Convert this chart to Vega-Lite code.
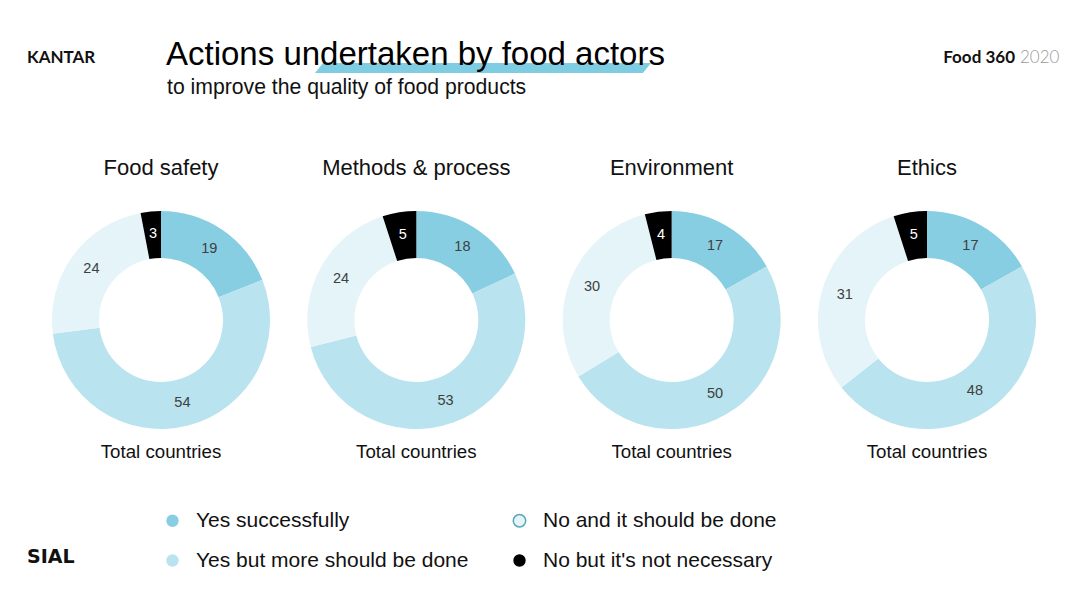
{
  "$schema": "https://vega.github.io/schema/vega-lite/v6.json",
  "width": 1080,
  "height": 595,
  "autosize": {"type": "fit", "contains": "padding"},
  "padding": 0,
  "background": "white",
  "config": {"view": {"stroke": null}, "font": "Liberation Sans"},
  "datasets": {
    "answers": [
      {"panel": "Food safety", "answer": "Yes successfully", "ord": 1, "value": 19},
      {"panel": "Food safety", "answer": "Yes but more should be done", "ord": 2, "value": 54},
      {"panel": "Food safety", "answer": "No and it should be done", "ord": 3, "value": 24},
      {"panel": "Food safety", "answer": "No but it's not necessary", "ord": 4, "value": 3},
      {"panel": "Methods & process", "answer": "Yes successfully", "ord": 1, "value": 18},
      {"panel": "Methods & process", "answer": "Yes but more should be done", "ord": 2, "value": 53},
      {"panel": "Methods & process", "answer": "No and it should be done", "ord": 3, "value": 24},
      {"panel": "Methods & process", "answer": "No but it's not necessary", "ord": 4, "value": 5},
      {"panel": "Environment", "answer": "Yes successfully", "ord": 1, "value": 17},
      {"panel": "Environment", "answer": "Yes but more should be done", "ord": 2, "value": 50},
      {"panel": "Environment", "answer": "No and it should be done", "ord": 3, "value": 30},
      {"panel": "Environment", "answer": "No but it's not necessary", "ord": 4, "value": 4},
      {"panel": "Ethics", "answer": "Yes successfully", "ord": 1, "value": 17},
      {"panel": "Ethics", "answer": "Yes but more should be done", "ord": 2, "value": 48},
      {"panel": "Ethics", "answer": "No and it should be done", "ord": 3, "value": 31},
      {"panel": "Ethics", "answer": "No but it's not necessary", "ord": 4, "value": 5}
    ],
    "panels": [
      {"panel": "Food safety", "footer": "Total countries"},
      {"panel": "Methods & process", "footer": "Total countries"},
      {"panel": "Environment", "footer": "Total countries"},
      {"panel": "Ethics", "footer": "Total countries"}
    ]
  },
  "layer": [
    {
      "data": {"values": [{}]},
      "mark": {"type": "point", "shape": "M-0.952,-0.0298L1,-0.0298L0.952,0.0298L-1,0.0298Z", "size": 112896, "filled": true, "color": "#7FCDE2", "opacity": 1, "strokeWidth": 0, "x": 483, "y": 68},
      "encoding": {}
    },
    {
      "data": {"values": [{}]},
      "mark": {"type": "text", "text": "Actions undertaken by food actors", "x": 166, "y": 65, "align": "left", "baseline": "alphabetic", "fontSize": 33, "color": "#000000"},
      "encoding": {}
    },
    {
      "data": {"values": [{}]},
      "mark": {"type": "text", "text": "to improve the quality of food products", "x": 167, "y": 94, "align": "left", "baseline": "alphabetic", "fontSize": 21.2, "color": "#111111"},
      "encoding": {}
    },
    {
      "data": {"values": [{}]},
      "mark": {"type": "text", "text": "KANTAR", "x": 27, "y": 58, "align": "left", "baseline": "middle", "fontSize": 17, "font": "Lato", "fontWeight": "bold", "color": "#111111"},
      "encoding": {}
    },
    {
      "data": {"values": [{}]},
      "mark": {"type": "text", "text": "Food 360", "x": 1015, "y": 58, "align": "right", "baseline": "middle", "fontSize": 17, "font": "Lato", "fontWeight": "bold", "color": "#111111"},
      "encoding": {}
    },
    {
      "data": {"values": [{}]},
      "mark": {"type": "text", "text": "2020", "x": 1020, "y": 58, "align": "left", "baseline": "middle", "fontSize": 17, "font": "Lato", "fontWeight": 300, "color": "#9a9a9a"},
      "encoding": {}
    },
    {
      "data": {"values": [{}]},
      "mark": {"type": "text", "text": "SIAL", "x": 27, "y": 557, "align": "left", "baseline": "middle", "fontSize": 19, "font": "DejaVu Sans", "fontWeight": "bold", "color": "#111111"},
      "encoding": {}
    },
    {
      "data": {"name": "panels"},
      "mark": {"type": "text", "y": 175, "baseline": "alphabetic", "align": "center", "fontSize": 22, "color": "#111111"},
      "encoding": {
        "x": {"field": "panel", "type": "nominal", "axis": null},
        "text": {"field": "panel"}
      }
    },
    {
      "data": {"name": "panels"},
      "mark": {"type": "text", "y": 458, "baseline": "alphabetic", "align": "center", "fontSize": 18.7, "color": "#111111"},
      "encoding": {
        "x": {"field": "panel", "type": "nominal", "axis": null},
        "text": {"field": "footer"}
      }
    },
    {
      "data": {"name": "answers"},
      "encoding": {
        "x": {"field": "panel", "type": "nominal", "axis": null, "scale": {"type": "point", "padding": 0, "domain": ["Food safety", "Methods & process", "Environment", "Ethics"], "range": [161, 927]}},
        "y": {"value": 320},
        "theta": {"field": "value", "type": "quantitative", "stack": "normalize"},
        "order": {"field": "ord", "type": "quantitative"}
      },
      "layer": [
        {
          "transform": [{"filter": "datum.panel === 'Food safety'"}],
          "layer": [
            {
              "mark": {"type": "arc", "innerRadius": 62, "outerRadius": 109},
              "encoding": {
                "color": {"field": "answer", "type": "nominal",
                  "scale": {"domain": ["Yes successfully", "No and it should be done", "Yes but more should be done", "No but it's not necessary"], "range": ["#87CEE3", "#E5F4F8", "#B9E3EE", "#000000"]},
                  "legend": {"orient": "none", "legendX": 162, "legendY": 510, "direction": "horizontal", "columns": 2, "title": null, "symbolType": "circle", "symbolSize": 154, "labelFontSize": 21, "labelFont": "Liberation Sans", "labelColor": "#111111", "labelOffset": 13, "rowPadding": 18, "columnPadding": 40, "labelLimit": 400, "padding": 0, "symbolOpacity": 1,
                    "encode": {"symbols": {"update": {"stroke": {"signal": "datum.value === 'No and it should be done' ? '#5BA5BA' : 'transparent'"}, "strokeWidth": {"value": 1.5}}}}}
                }
              }
            },
            {
              "mark": {"type": "text", "radius": 86, "fontSize": 14.5},
              "encoding": {
                "text": {"field": "value", "type": "quantitative"},
                "detail": {"field": "answer"},
                "color": {"condition": {"test": "datum.ord === 4", "value": "#ffffff"}, "value": "#404040"}
              }
            }
          ]
        },
        {
          "transform": [{"filter": "datum.panel === 'Methods & process'"}],
          "layer": [
            {
              "mark": {"type": "arc", "innerRadius": 62, "outerRadius": 109},
              "encoding": {"color": {"field": "answer", "type": "nominal"}}
            },
            {
              "mark": {"type": "text", "radius": 86, "fontSize": 14.5},
              "encoding": {
                "text": {"field": "value", "type": "quantitative"},
                "detail": {"field": "answer"},
                "color": {"condition": {"test": "datum.ord === 4", "value": "#ffffff"}, "value": "#404040"}
              }
            }
          ]
        },
        {
          "transform": [{"filter": "datum.panel === 'Environment'"}],
          "layer": [
            {
              "mark": {"type": "arc", "innerRadius": 62, "outerRadius": 109},
              "encoding": {"color": {"field": "answer", "type": "nominal"}}
            },
            {
              "mark": {"type": "text", "radius": 86, "fontSize": 14.5},
              "encoding": {
                "text": {"field": "value", "type": "quantitative"},
                "detail": {"field": "answer"},
                "color": {"condition": {"test": "datum.ord === 4", "value": "#ffffff"}, "value": "#404040"}
              }
            }
          ]
        },
        {
          "transform": [{"filter": "datum.panel === 'Ethics'"}],
          "layer": [
            {
              "mark": {"type": "arc", "innerRadius": 62, "outerRadius": 109},
              "encoding": {"color": {"field": "answer", "type": "nominal"}}
            },
            {
              "mark": {"type": "text", "radius": 86, "fontSize": 14.5},
              "encoding": {
                "text": {"field": "value", "type": "quantitative"},
                "detail": {"field": "answer"},
                "color": {"condition": {"test": "datum.ord === 4", "value": "#ffffff"}, "value": "#404040"}
              }
            }
          ]
        }
      ]
    }
  ]
}
